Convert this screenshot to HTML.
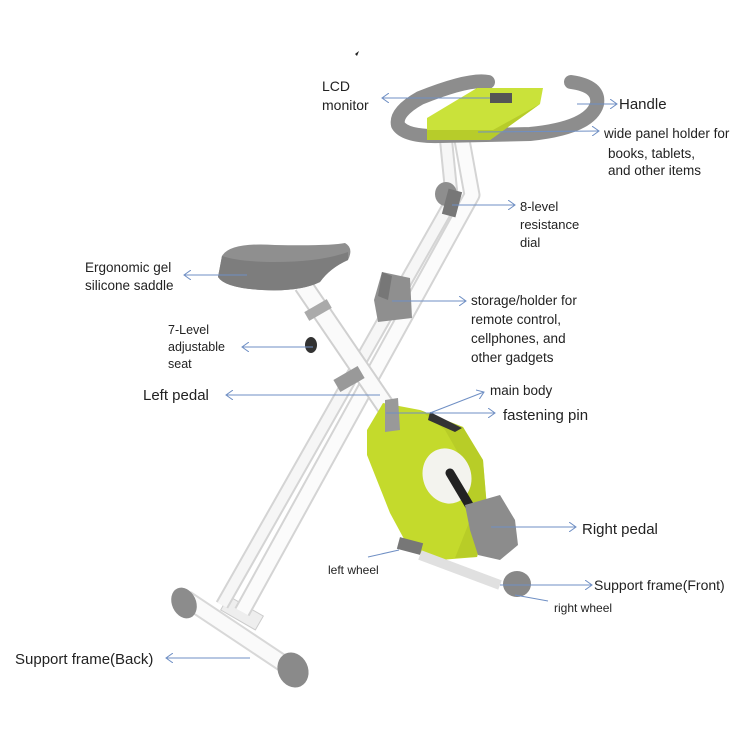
<!DOCTYPE html>
<html><head><meta charset="utf-8"><style>
html,body{margin:0;padding:0;background:#fff}
svg{display:block}
text{font-family:"Liberation Sans","DejaVu Sans",sans-serif;fill:#222}
</style></head><body>
<svg width="749" height="749" viewBox="0 0 749 749" xmlns="http://www.w3.org/2000/svg">
<defs>
<marker id="a" markerWidth="8" markerHeight="10" refX="7" refY="5" orient="auto" markerUnits="userSpaceOnUse">
<path d="M0,0 L7,5 L0,10" fill="none" stroke="#6f8fc4" stroke-width="1"/></marker>
</defs>
<rect width="749" height="749" fill="#fff"/>
<path d="M355,54 l4,-3 l-2,5z" fill="#222"/>

<!-- back foot -->
<line x1="188" y1="600" x2="290" y2="668" stroke="#d8d8d8" stroke-width="18" stroke-linecap="round"/>
<line x1="188" y1="600" x2="290" y2="668" stroke="#fafafa" stroke-width="14" stroke-linecap="round"/>
<ellipse cx="184" cy="603" rx="12" ry="16" fill="#8c8c8c" transform="rotate(-25 184 603)"/>
<ellipse cx="293" cy="670" rx="15" ry="18" fill="#8a8a8a" transform="rotate(-25 293 670)"/>
<rect x="222" y="605" width="40" height="16" fill="#eee" stroke="#ccc" transform="rotate(30 242 613)"/>

<!-- front tubes (from handle down to back foot) -->
<path d="M462,140 L472,195 L242,612" fill="none" stroke="#d4d4d4" stroke-width="17" stroke-linejoin="round"/>
<path d="M462,140 L472,195 L242,612" fill="none" stroke="#fbfbfb" stroke-width="13" stroke-linejoin="round"/>
<path d="M446,140 L452,200 L222,605" fill="none" stroke="#d4d4d4" stroke-width="14" stroke-linejoin="round"/>
<path d="M446,140 L452,200 L222,605" fill="none" stroke="#f6f6f6" stroke-width="10" stroke-linejoin="round"/>

<!-- seat tube -->
<line x1="303" y1="285" x2="395" y2="420" stroke="#d0d0d0" stroke-width="20"/>
<line x1="303" y1="285" x2="395" y2="420" stroke="#fafafa" stroke-width="16"/>
<rect x="305" y="305" width="26" height="10" fill="#aaa" transform="rotate(-30 318 310)"/>
<rect x="335" y="372" width="28" height="14" fill="#999" transform="rotate(-30 349 379)"/>
<ellipse cx="311" cy="345" rx="6" ry="8" fill="#333"/>

<!-- main body -->
<path d="M383,403 L420,410 L463,427 L483,460 L488,520 L477,557 L440,560 L410,550 L390,513 L367,455 L367,430 Z" fill="#c4da2c"/>
<path d="M420,410 L463,427 L483,460 L488,520 L477,557 L455,558 L470,520 L465,465 L445,430 Z" fill="#b0c424" opacity="0.6"/>
<path d="M385,400 L398,398 L400,430 L385,432 Z" fill="#999"/>
<path d="M430,412 L462,428 L455,432 L428,420 Z" fill="#333"/>
<ellipse cx="447" cy="476" rx="24" ry="28" fill="#f3f3ee" transform="rotate(-20 447 476)"/>
<line x1="450" y1="473" x2="478" y2="520" stroke="#222" stroke-width="9" stroke-linecap="round"/>
<path d="M465,505 L500,495 L515,520 L518,545 L500,560 L478,555 L470,530 Z" fill="#8c8c8c"/>
<rect x="398" y="540" width="24" height="12" fill="#777" transform="rotate(15 410 546)"/>
<line x1="420" y1="555" x2="500" y2="585" stroke="#e0e0e0" stroke-width="10"/>
<ellipse cx="517" cy="584" rx="14" ry="13" fill="#888"/>

<!-- storage holder -->
<path d="M382,272 L410,278 L412,318 L378,322 L374,300 Z" fill="#8f8f8f"/>
<path d="M382,272 L392,276 L388,300 L378,296 Z" fill="#777"/>

<!-- dial -->
<ellipse cx="446" cy="194" rx="11" ry="12" fill="#8e8e8e"/>
<rect x="445" y="190" width="14" height="26" fill="#777" transform="rotate(15 452 203)"/>

<!-- seat -->
<path d="M222,256 Q230,242 275,245 Q330,246 345,243 Q354,248 348,260 Q330,268 320,282 Q300,292 262,290 Q225,288 218,277 Z" fill="#8f8f8f"/>
<path d="M222,256 Q240,262 275,262 Q320,262 348,252 L348,260 Q330,268 320,282 Q300,292 262,290 Q225,288 218,277 Z" fill="#7d7d7d"/>

<!-- handlebar -->
<path d="M488,82 Q470,78 420,98 Q395,112 398,125 Q405,137 440,136 L530,134 Q590,128 597,104 Q600,86 571,82" fill="none" stroke="#8d8d8d" stroke-width="14" stroke-linecap="round" stroke-linejoin="round"/>
<path d="M427,118 L477,88 L543,88 L540,104 L490,140 L427,140 Z" fill="#cae23a"/>
<path d="M427,130 L493,130 L540,104 L490,140 L427,140 Z" fill="#b7cc2a"/>
<rect x="490" y="93" width="22" height="10" fill="#555"/>

<!-- connectors -->
<g stroke="#6f8fc4" stroke-width="1" fill="none">
<line x1="490" y1="98" x2="382" y2="98" marker-end="url(#a)"/>
<line x1="577" y1="104" x2="617" y2="104" marker-end="url(#a)"/>
<line x1="478" y1="132" x2="599" y2="131" marker-end="url(#a)"/>
<line x1="452" y1="205" x2="515" y2="205" marker-end="url(#a)"/>
<line x1="247" y1="275" x2="184" y2="275" marker-end="url(#a)"/>
<line x1="392" y1="301" x2="466" y2="301" marker-end="url(#a)"/>
<line x1="313" y1="347" x2="242" y2="347" marker-end="url(#a)"/>
<line x1="380" y1="395" x2="226" y2="395" marker-end="url(#a)"/>
<line x1="430" y1="413" x2="484" y2="392" marker-end="url(#a)"/>
<line x1="386" y1="413" x2="495" y2="413" marker-end="url(#a)"/>
<line x1="491" y1="527" x2="576" y2="527" marker-end="url(#a)"/>
<line x1="368" y1="557" x2="399" y2="550"/>
<line x1="500" y1="585" x2="592" y2="585" marker-end="url(#a)"/>
<line x1="515" y1="595" x2="548" y2="601"/>
<line x1="250" y1="658" x2="166" y2="658" marker-end="url(#a)"/>
</g>

<!-- labels -->
<text x="322" y="91" font-size="14">LCD</text>
<text x="322" y="110" font-size="14">monitor</text>
<text x="619" y="109" font-size="15">Handle</text>
<text x="604" y="138" font-size="13.5">wide panel holder for</text>
<text x="608" y="158" font-size="13.5">books, tablets,</text>
<text x="608" y="175" font-size="13.5">and other items</text>
<text x="520" y="211" font-size="13">8-level</text>
<text x="520" y="229" font-size="13">resistance</text>
<text x="520" y="247" font-size="13">dial</text>
<text x="85" y="272" font-size="13.5">Ergonomic gel</text>
<text x="85" y="290" font-size="13.5">silicone saddle</text>
<text x="471" y="305" font-size="13.5">storage/holder for</text>
<text x="471" y="324" font-size="13.5">remote control,</text>
<text x="471" y="343" font-size="13.5">cellphones, and</text>
<text x="471" y="362" font-size="13.5">other gadgets</text>
<text x="168" y="334" font-size="12.5">7-Level</text>
<text x="168" y="351" font-size="12.5">adjustable</text>
<text x="168" y="368" font-size="12.5">seat</text>
<text x="143" y="400" font-size="15">Left pedal</text>
<text x="490" y="395" font-size="13.5">main body</text>
<text x="503" y="420" font-size="15">fastening pin</text>
<text x="582" y="534" font-size="15">Right pedal</text>
<text x="328" y="574" font-size="12">left wheel</text>
<text x="594" y="590" font-size="14">Support frame(Front)</text>
<text x="554" y="612" font-size="12">right wheel</text>
<text x="15" y="664" font-size="15">Support frame(Back)</text>
</svg>
</body></html>
